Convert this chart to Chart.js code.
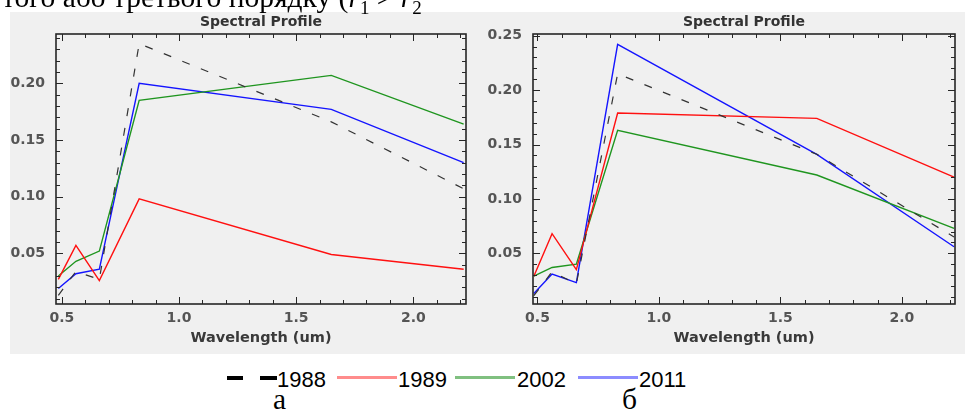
<!DOCTYPE html>
<html>
<head>
<meta charset="utf-8">
<script src="https://cdn.jsdelivr.net/npm/chart.js@4.4.1/dist/chart.umd.min.js"></script>
<style>
  html, body { margin: 0; padding: 0; background: #ffffff; width: 965px; height: 414px; overflow: hidden; position: relative; }
  #panel { position: absolute; left: 10px; top: 12px; width: 955px; height: 342px; background: #f0f0f0; }
  #cA { position: absolute; left: 10px; top: 12px; }
  #cB { position: absolute; left: 478px; top: 12px; }
  .serif { position: absolute; font-family: "Liberation Serif", "Times New Roman", serif; font-size: 29.5px; line-height: 29px; color: #000; white-space: nowrap; z-index: 5; }
  .leg { position: absolute; font-family: "Liberation Sans", Arial, sans-serif; font-size: 22px; line-height: 22px; color: #000; top: 369px; white-space: nowrap; }
  .sw { position: absolute; top: 376px; height: 3px; }
</style>
</head>
<body>
<div class="serif" style="left:2px; top:-17px;">того або третього порядку (<i>r</i><sub style="font-size:19px">1</sub> &gt; <i>r</i><sub style="font-size:19px">2</sub></div>
<div id="panel"></div>
<canvas id="cA" width="468" height="342"></canvas>
<canvas id="cB" width="487" height="342"></canvas>

<div class="sw" style="left:227px; width:16px; height:4px; top:376px; background:#000;"></div>
<div class="sw" style="left:260px; width:17px; height:4px; top:376px; background:#000;"></div>
<div class="leg" style="left:277px;">1988</div>
<div class="sw" style="left:337px; width:60px; background:#ff8c8c;"></div>
<div class="leg" style="left:398px;">1989</div>
<div class="sw" style="left:455px; width:60px; background:#80c080;"></div>
<div class="leg" style="left:517px;">2002</div>
<div class="sw" style="left:578px; width:60px; background:#8c8cff;"></div>
<div class="leg" style="left:639px;">2011</div>

<div class="serif" style="left:273px; top:385px;">а</div>
<div class="serif" style="left:622px; top:385px;">б</div>

<script>
// ---- data ----
const wavelengths = [0.485, 0.56, 0.66, 0.83, 1.65, 2.215];
const years = ['1988', '1989', '2002', '2011'];

// panel а
const a1988 = [0.013, 0.034, 0.027, 0.235, 0.166, 0.107];
const a1989 = [0.027, 0.057, 0.026, 0.098, 0.049, 0.036];
const a2002 = [0.030, 0.043, 0.052, 0.185, 0.207, 0.164];
const a2011 = [0.019, 0.032, 0.036, 0.200, 0.177, 0.130];

// panel б
const b1988 = [0.011, 0.033, 0.022, 0.215, 0.141, 0.065];
const b1989 = [0.029, 0.068, 0.035, 0.179, 0.174, 0.120];
const b2002 = [0.029, 0.037, 0.040, 0.163, 0.122, 0.073];
const b2011 = [0.013, 0.031, 0.023, 0.242, 0.141, 0.056];

const xTickValues = [0.5, 1.0, 1.5, 2.0];
const yTickValuesA = [0.05, 0.10, 0.15, 0.20];
const yTickValuesB = [0.05, 0.10, 0.15, 0.20, 0.25];
const chartTitle = 'Spectral Profile';
const xTitle = 'Wavelength (um)';

// ---- styling ----
const lineStyles = [
  { borderColor: '#333333', borderDash: [8, 12], borderWidth: 1.2 },
  { borderColor: '#ff1010', borderDash: [], borderWidth: 1.4 },
  { borderColor: '#1f951f', borderDash: [], borderWidth: 1.4 },
  { borderColor: '#1414ff', borderDash: [], borderWidth: 1.4 }
];

function makeDatasets(series) {
  return series.map((vals, i) => Object.assign({
    label: years[i],
    data: wavelengths.map((w, k) => ({ x: w, y: vals[k] })),
    pointRadius: 0,
    tension: 0,
    fill: false
  }, lineStyles[i]));
}

const frameTicks = {
  id: 'frameTicks',
  afterDatasetsDraw(chart, args, opts) {
    const { ctx, chartArea: a, scales: { x, y } } = chart;
    ctx.save();
    ctx.strokeStyle = '#262626';
    ctx.lineWidth = 1;
    const seg = (x1, y1, x2, y2) => { ctx.beginPath(); ctx.moveTo(x1, y1); ctx.lineTo(x2, y2); ctx.stroke(); };
    const k0 = Math.ceil(x.min / opts.xMinor - 1e-6), k1 = Math.floor(x.max / opts.xMinor + 1e-6);
    for (let k = k0; k <= k1; k++) {
      const v = k * opts.xMinor;
      const major = Math.abs(v / opts.xMajor - Math.round(v / opts.xMajor)) < 1e-6;
      const px = Math.round(x.getPixelForValue(v)) + 0.5;
      const len = major ? 7 : 4;
      seg(px, a.bottom, px, a.bottom - len);
      seg(px, a.top, px, a.top + len);
    }
    const j0 = Math.ceil(y.min / opts.yMinor - 1e-6), j1 = Math.floor(y.max / opts.yMinor + 1e-6);
    for (let j = j0; j <= j1; j++) {
      const v = j * opts.yMinor;
      const major = Math.abs(v / opts.yMajor - Math.round(v / opts.yMajor)) < 1e-6;
      const py = Math.round(y.getPixelForValue(v)) + 0.5;
      const len = major ? 7 : 4;
      seg(a.left, py, a.left + len, py);
      seg(a.right, py, a.right - len, py);
    }
    ctx.lineWidth = 1.6;
    ctx.strokeRect(a.left, a.top, a.right - a.left, a.bottom - a.top);
    // title centred over the plot area
    ctx.fillStyle = '#333333';
    ctx.font = 'bold 14px "DejaVu Sans"';
    ctx.textAlign = 'center';
    ctx.textBaseline = 'alphabetic';
    ctx.fillText(opts.title, (a.left + a.right) / 2, opts.titleBaseline);
    ctx.restore();
  }
};

const fontTick = { family: 'DejaVu Sans', size: 14, weight: 'bold', lineHeight: 1.2 };

function makeChart(id, series, cfg) {
  return new Chart(document.getElementById(id), {
    type: 'line',
    data: { datasets: makeDatasets(series) },
    plugins: [frameTicks],
    options: {
      responsive: false,
      animation: false,
      events: [],
      layout: { padding: { left: 0, right: cfg.padRight, top: 22, bottom: 0 } },
      plugins: {
        legend: { display: false },
        tooltip: { enabled: false },
        title: { display: false },
        frameTicks: { xMinor: 0.1, xMajor: 0.5, yMinor: 0.01, yMajor: 0.05, title: chartTitle, titleBaseline: 13.5 }
      },
      scales: {
        x: {
          type: 'linear',
          min: cfg.xMin, max: cfg.xMax,
          grid: { display: false, drawTicks: false },
          border: { display: false },
          afterBuildTicks: (s) => { s.ticks = xTickValues.map(v => ({ value: v })); },
          afterFit: (s) => { s.height = 50; },
          ticks: {
            color: '#555555', font: fontTick, padding: 6, maxRotation: 0,
            callback: (v) => Number(v).toFixed(1)
          },
          title: {
            display: true, text: xTitle, color: '#3a3a3a',
            font: { family: 'DejaVu Sans', size: 14.5, weight: 'bold', lineHeight: 1.2 },
            padding: { top: 0, bottom: 7 }
          }
        },
        y: {
          type: 'linear',
          min: cfg.yMin, max: cfg.yMax,
          grid: { display: false, drawTicks: false },
          border: { display: false },
          afterBuildTicks: (s) => { s.ticks = cfg.yTicks.map(v => ({ value: v })); },
          afterFit: (s) => { s.width = cfg.yWidth; },
          ticks: {
            color: '#555555', font: fontTick, padding: 11,
            callback: (v) => Number(v).toFixed(2)
          }
        }
      }
    }
  });
}

makeChart('cA', [a1988, a1989, a2002, a2011], {
  xMin: 0.475, xMax: 2.225, yMin: 0.0053, yMax: 0.2435, yTicks: yTickValuesA, yWidth: 46, padRight: 12
});
makeChart('cB', [b1988, b1989, b2002, b2011], {
  xMin: 0.4815, xMax: 2.219, yMin: 0.0034, yMax: 0.2516, yTicks: yTickValuesB, yWidth: 55, padRight: 10
});
</script>
</body>
</html>
